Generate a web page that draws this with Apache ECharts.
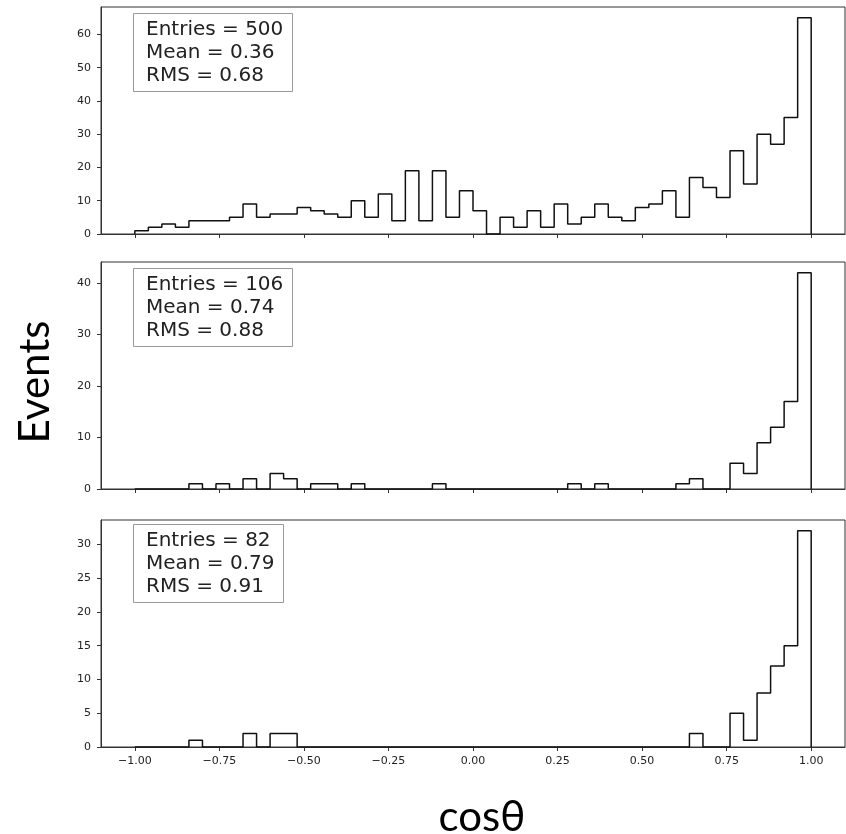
<!DOCTYPE html>
<html>
<head>
<meta charset="utf-8">
<script src="https://cdn.jsdelivr.net/npm/echarts@6/dist/echarts.min.js"></script>
<style>html,body{margin:0;padding:0;background:#fff}#c{width:846px;height:834px}</style>
</head>
<body>
<div id="c"></div>
<script>
// ---- data ----
const binStart = -1.0;
const binWidth = 0.04;
const xTicks = [-1, -0.75, -0.5, -0.25, 0, 0.25, 0.5, 0.75, 1];
const yTicks1 = [0, 10, 20, 30, 40, 50, 60];
const yTicks2 = [0, 10, 20, 30, 40];
const yTicks3 = [0, 5, 10, 15, 20, 25, 30];

const counts1 = [1, 2, 3, 2, 4, 4, 4, 5, 9, 5, 6, 6, 8, 7, 6, 5, 10, 5, 12, 4, 19, 4, 19, 5, 13,
                 7, 0, 5, 2, 7, 2, 9, 3, 5, 9, 5, 4, 8, 9, 13, 5, 17, 14, 11, 25, 15, 30, 27, 35, 65];
const counts2 = [0, 0, 0, 0, 1, 0, 1, 0, 2, 0, 3, 2, 0, 1, 1, 0, 1, 0, 0, 0, 0, 0, 1, 0, 0,
                 0, 0, 0, 0, 0, 0, 0, 1, 0, 1, 0, 0, 0, 0, 0, 1, 2, 0, 0, 5, 3, 9, 12, 17, 42];
const counts3 = [0, 0, 0, 0, 1, 0, 0, 0, 2, 0, 2, 2, 0, 0, 0, 0, 0, 0, 0, 0, 0, 0, 0, 0, 0,
                 0, 0, 0, 0, 0, 0, 0, 0, 0, 0, 0, 0, 0, 0, 0, 0, 2, 0, 0, 5, 1, 8, 12, 15, 32];

const stats1 = ['Entries = 500', 'Mean = 0.36', 'RMS = 0.68'];
const stats2 = ['Entries = 106', 'Mean = 0.74', 'RMS = 0.88'];
const stats3 = ['Entries = 82', 'Mean = 0.79', 'RMS = 0.91'];

const xLabel = 'cos\u03b8';
const yLabel = 'Events';

// ---- build ----
function stepData(counts) {
  const d = [[binStart, 0]];
  counts.forEach((c, i) => d.push([binStart + i * binWidth, c]));
  d.push([binStart + counts.length * binWidth, 0]);
  return d;
}
const allCounts = [counts1, counts2, counts3];
const allYTicks = [yTicks1, yTicks2, yTicks3];
const allStats = [stats1, stats2, stats3];
const tops = [7, 262, 520];
const H = 227;
const axisColor = '#333';
const fmtX = v => (v < 0 ? '\u2212' : '') + Math.abs(v).toFixed(2);

const grids = [], xAxes = [], yAxes = [], series = [], titles = [];
for (let i = 0; i < 3; i++) {
  const maxV = Math.max.apply(null, allCounts[i]) * 1.05;
  grids.push({left: 101, right: 1, top: tops[i], height: H, show: true,
              borderColor: axisColor, borderWidth: 1, backgroundColor: '#fff'});
  xAxes.push({type: 'value', gridIndex: i, min: -1.1, max: 1.1, position: 'bottom',
    axisLine: {show: true, onZero: false, lineStyle: {color: axisColor}},
    splitLine: {show: false},
    axisTick: {show: true, inside: false, length: 4, customValues: xTicks, lineStyle: {color: axisColor}},
    axisLabel: {show: i === 2, customValues: xTicks, formatter: fmtX, margin: 9,
                fontFamily: 'DejaVu Sans', fontSize: 11, color: '#222'}
  });
  yAxes.push({type: 'value', gridIndex: i, min: 0, max: maxV, position: 'left',
    axisLine: {show: true, onZero: false, lineStyle: {color: axisColor}},
    splitLine: {show: false},
    axisTick: {show: true, inside: false, length: 4, customValues: allYTicks[i], lineStyle: {color: axisColor}},
    axisLabel: {show: true, customValues: allYTicks[i], margin: 10,
                fontFamily: 'DejaVu Sans', fontSize: 11, color: '#222'}
  });
  series.push({type: 'line', xAxisIndex: i, yAxisIndex: i, step: 'end',
    data: stepData(allCounts[i]), showSymbol: false, symbol: 'none', silent: true,
    lineStyle: {color: '#111', width: 1.5}, animation: false});
  titles.push({text: allStats[i].join('\n'), left: 133, top: tops[i] + (i === 2 ? 4 : 6),
    padding: [5, 9, 5, 13], borderColor: '#999', borderWidth: 1, backgroundColor: '#fff',
    textStyle: {fontFamily: 'DejaVu Sans', fontSize: 20, fontWeight: 'normal',
                color: '#222', lineHeight: 23}});
}

const chart = echarts.init(document.getElementById('c'), null, {renderer: 'canvas'});
chart.setOption({
  animation: false,
  backgroundColor: '#fff',
  title: titles,
  grid: grids,
  xAxis: xAxes,
  yAxis: yAxes,
  series: series,
  graphic: [
    {type: 'text', x: 35, y: 382, rotation: Math.PI / 2,
     style: {text: yLabel, fontFamily: 'Lato', fontSize: 42, fill: '#000',
             align: 'center', verticalAlign: 'middle'}},
    {type: 'text', x: 482, y: 817,
     style: {text: xLabel, fontFamily: 'Lato', fontSize: 42, fill: '#000',
             align: 'center', verticalAlign: 'middle'}}
  ]
});
</script>
</body>
</html>
